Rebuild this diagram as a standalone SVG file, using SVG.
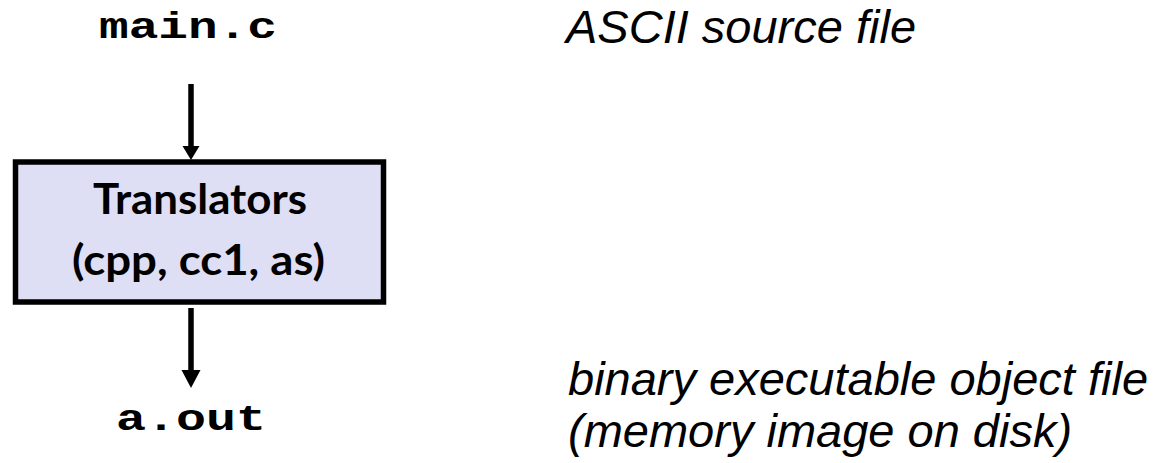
<svg xmlns="http://www.w3.org/2000/svg" width="1165" height="463" viewBox="0 0 1165 463">
<style>
.mono{font-family:"Liberation Mono","Courier New",monospace;font-weight:bold;font-size:36px;fill:#000}
.box{fill:#dedef4;stroke:#000;stroke-width:5.5}
.lbl{font-family:Lato,"Liberation Sans",sans-serif;font-weight:bold;font-size:42px;fill:#000}
.note{font-family:"Liberation Sans",Arial,sans-serif;font-style:italic;font-size:47px;fill:#000}
.shaft{stroke:#000;stroke-width:5.5}
</style>
<rect width="1165" height="463" fill="#fff"/>
<g id="main_c"><text class="mono" x="188" y="37.5" text-anchor="middle" textLength="178" lengthAdjust="spacingAndGlyphs">main.c</text></g>
<g id="translators">
<rect class="box" x="15.5" y="162" width="368" height="140"/>
<text class="lbl" x="200" y="214" text-anchor="middle" textLength="214" lengthAdjust="spacingAndGlyphs">Translators</text>
<text class="lbl" x="198.5" y="275" text-anchor="middle" textLength="253" lengthAdjust="spacingAndGlyphs">(cpp, cc1, as)</text>
</g>
<g id="a_out"><text class="mono" x="191" y="430" text-anchor="middle" textLength="150" lengthAdjust="spacingAndGlyphs">a.out</text></g>
<g id="notes">
<text class="note" x="566" y="43.3">ASCII source file</text>
<text class="note" x="568" y="395">binary executable object file</text>
<text class="note" x="568" y="446.7">(memory image on disk)</text>
</g>
<g id="connectors">
<line class="shaft" x1="191" y1="84" x2="191" y2="148"/>
<polygon points="182.5,146 199.5,146 191,160"/>
<line class="shaft" x1="191" y1="308" x2="191" y2="372"/>
<polygon points="181.5,370 200.5,370 191,388"/>
</g>
</svg>
